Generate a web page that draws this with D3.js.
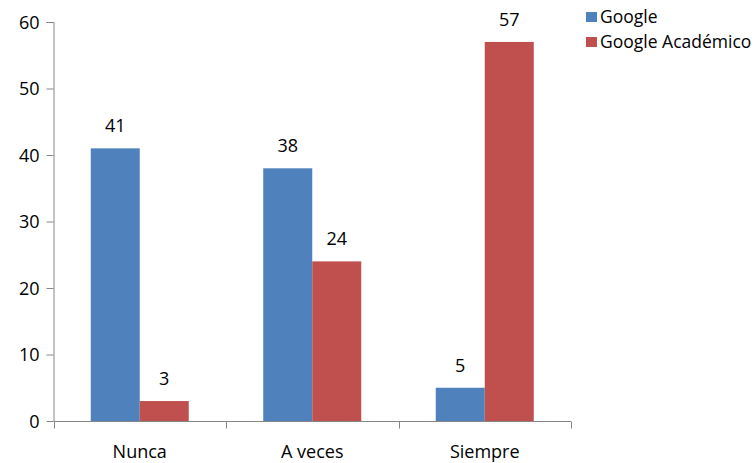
<!DOCTYPE html>
<html><head><meta charset="utf-8">
<script src="https://cdn.jsdelivr.net/npm/d3@7"></script>
<style>body{margin:0;background:#fff}svg{display:block}text{font-family:"Open Sans",sans-serif;fill:#000}</style>
</head><body>
<svg id="c" width="755" height="463"></svg>
<script>
const categories = ["Nunca", "A veces", "Siempre"];
const seriesNames = ["Google", "Google Académico"];
const googleValues = [41, 38, 5];
const academicoValues = [3, 24, 57];
const yTicks = [0, 10, 20, 30, 40, 50, 60];
const colors = ["#4F81BD", "#C0504D"];

const svg = d3.select("#c");
const mLeft = 53.5, mRight = 571, mTop = 22, mBottom = 421;
const x = d3.scaleBand().domain(categories).range([mLeft, mRight]).paddingInner(0).paddingOuter(0);
const inner = d3.scaleBand().domain(seriesNames).range([0, x.bandwidth()]).paddingInner(0).paddingOuter(0.76);
const y = d3.scaleLinear().domain([0, 60]).range([mBottom, mTop]);

const data = categories.map((c, i) => ({cat: c, vals: [googleValues[i], academicoValues[i]]}));

// bars
const g = svg.append("g");
data.forEach(d => {
  d.vals.forEach((v, j) => {
    const bx = x(d.cat) + inner(seriesNames[j]);
    g.append("rect").attr("x", bx).attr("y", y(v)).attr("width", inner.bandwidth()).attr("height", y(0) - y(v))
      .attr("fill", colors[j]);
    g.append("text").attr("x", bx + inner.bandwidth() / 2).attr("y", y(v) - 16)
      .attr("text-anchor", "middle").attr("font-size", 18).text(v);
  });
});

// y axis
const ya = svg.append("g").attr("transform", `translate(${mLeft},0)`)
  .call(d3.axisLeft(y).tickValues(yTicks).tickSize(7).tickPadding(7));
ya.selectAll("text").attr("font-size", 18).attr("font-family", "Open Sans").attr("fill", "#000").attr("dy", "0.36em");
ya.selectAll("line").attr("stroke", "#868686");
ya.select(".domain").attr("stroke", "#868686").attr("d", `M-7,${mTop}.5H0.5V${mBottom}`);

// x axis
const xa = svg.append("g").attr("transform", `translate(0,${mBottom + 0.5})`);
xa.append("line").attr("x1", mLeft).attr("x2", mRight).attr("stroke", "#868686");
const xt = [mLeft, ...categories.map(c => x(c) + x.bandwidth())];
xa.selectAll("line.t").data(xt).join("line").attr("class", "t")
  .attr("x1", d => Math.round(d) + 0.5).attr("x2", d => Math.round(d) + 0.5).attr("y1", 0).attr("y2", 7).attr("stroke", "#868686");
xa.selectAll("text").data(categories).join("text")
  .attr("x", d => x(d) + x.bandwidth() / 2).attr("y", 36).attr("text-anchor", "middle")
  .attr("font-size", 18).text(d => d);

// legend
const lg = svg.append("g");
seriesNames.forEach((s, i) => {
  lg.append("rect").attr("x", 586).attr("y", 12 + i * 25).attr("width", 11).attr("height", 10).attr("fill", colors[i]);
  lg.append("text").attr("x", 600).attr("y", 23 + i * 25).attr("font-size", 17.5).text(s);
});
</script>
</body></html>
